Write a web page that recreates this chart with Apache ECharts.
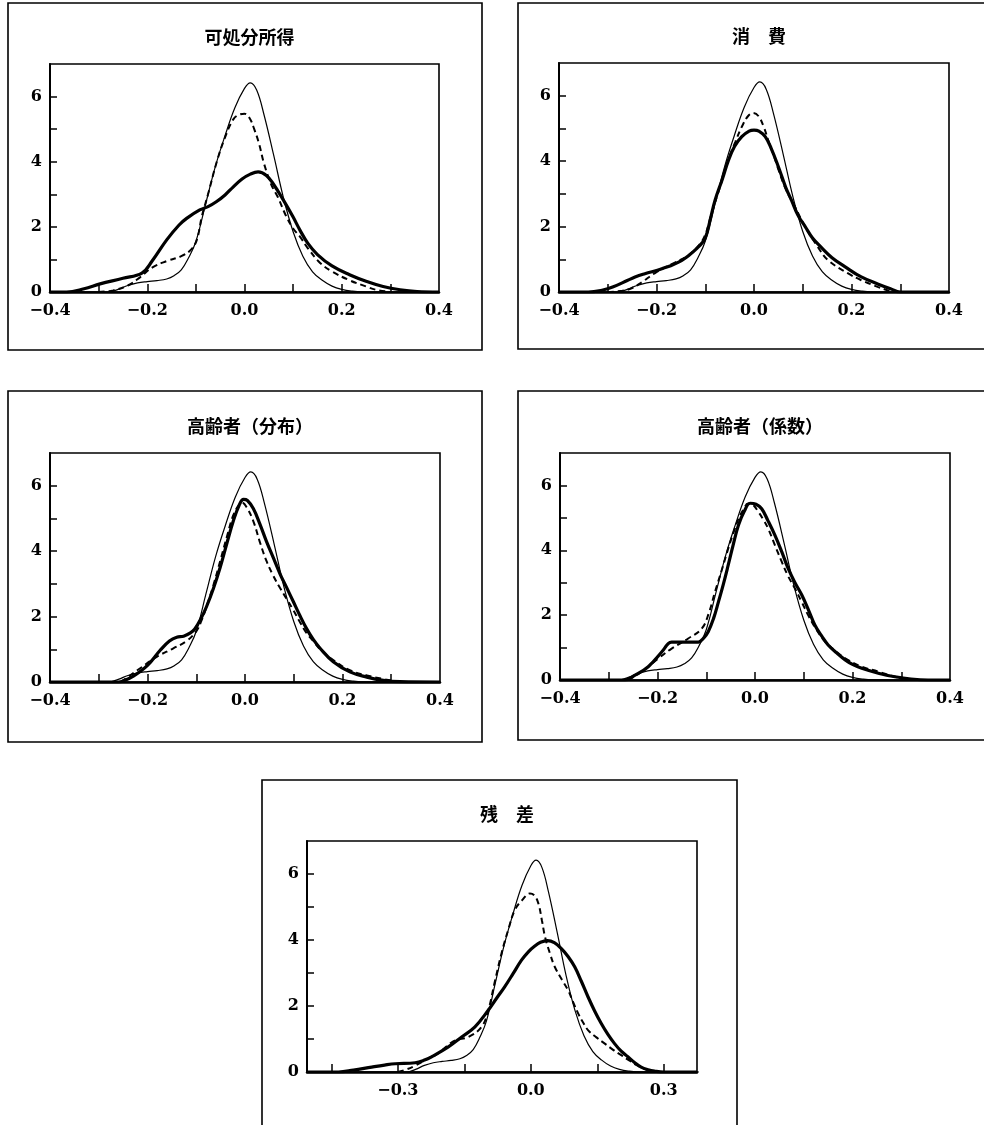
<!DOCTYPE html>
<html>
<head>
<meta charset="utf-8">
<title>密度分布</title>
<script src="https://cdn.jsdelivr.net/npm/echarts@6/dist/echarts.min.js"></script>
<style>
  html, body { margin: 0; padding: 0; background: #fff; }
  #chart { width: 984px; height: 1125px; }
</style>
</head>
<body>
<div id="chart"></div>
<script>
// Panel titles
const titles = ['可処分所得', '消　費', '高齢者（分布）', '高齢者（係数）', '残　差'];

// Axis ticks and labels
const xLabelsStd = [-0.4, -0.2, 0, 0.2, 0.4];
const xTicksStd = [-0.3, -0.2, -0.1, 0, 0.1, 0.2, 0.3];
const xLabelsResid = [-0.3, 0, 0.3];
const xTicksResid = [-0.45, -0.3, -0.15, 0, 0.15, 0.3];
const yLabels = [0, 2, 4, 6];
const yTicks = [1, 2, 3, 4, 5, 6];

// Thin solid curve, common to every panel
const baseCurve = [[-0.4,0],[-0.28,0],[-0.26,0.08],[-0.24,0.2],[-0.22,0.28],[-0.2,0.32],[-0.18,0.35],[-0.16,0.4],[-0.145,0.5],[-0.13,0.68],[-0.115,1.05],[-0.1,1.55],[-0.08,2.7],[-0.06,3.85],[-0.04,4.8],[-0.02,5.65],[0,6.25],[0.012,6.42],[0.025,6.2],[0.04,5.45],[0.06,4.2],[0.08,2.9],[0.1,1.85],[0.12,1.1],[0.14,0.62],[0.16,0.36],[0.18,0.18],[0.2,0.08],[0.22,0.03],[0.25,0],[0.4,0]];

// 可処分所得
const incomeThick = [[-0.4,0],[-0.366,0],[-0.33,0.1],[-0.297,0.25],[-0.25,0.42],[-0.211,0.58],[-0.19,0.95],[-0.16,1.6],[-0.135,2.05],[-0.119,2.26],[-0.092,2.52],[-0.075,2.62],[-0.058,2.77],[-0.04,2.98],[-0.023,3.23],[-0.005,3.47],[0.012,3.62],[0.028,3.69],[0.045,3.58],[0.06,3.3],[0.08,2.82],[0.1,2.3],[0.114,1.9],[0.13,1.5],[0.15,1.15],[0.18,0.8],[0.216,0.53],[0.25,0.33],[0.285,0.17],[0.32,0.07],[0.355,0.015],[0.4,0]];
const incomeDashed = [[-0.3,0],[-0.27,0.05],[-0.24,0.2],[-0.215,0.45],[-0.19,0.75],[-0.16,0.95],[-0.13,1.1],[-0.11,1.3],[-0.098,1.6],[-0.088,2.3],[-0.075,3.0],[-0.057,4.0],[-0.04,4.75],[-0.023,5.3],[-0.01,5.45],[0,5.47],[0.01,5.35],[0.02,5.0],[0.03,4.55],[0.04,3.95],[0.055,3.3],[0.069,2.9],[0.085,2.35],[0.1,1.95],[0.114,1.7],[0.13,1.35],[0.155,0.9],[0.18,0.63],[0.216,0.36],[0.25,0.17],[0.27,0.07],[0.3,0]];

// 消費
const consThick = [[-0.4,0],[-0.34,0],[-0.31,0.06],[-0.29,0.15],[-0.26,0.35],[-0.244,0.46],[-0.224,0.56],[-0.189,0.71],[-0.148,0.97],[-0.114,1.38],[-0.1,1.65],[-0.09,2.2],[-0.08,2.8],[-0.065,3.45],[-0.053,4.0],[-0.04,4.45],[-0.025,4.75],[-0.01,4.92],[0,4.95],[0.01,4.92],[0.023,4.75],[0.035,4.4],[0.05,3.83],[0.065,3.2],[0.077,2.8],[0.09,2.35],[0.105,2.0],[0.12,1.65],[0.139,1.35],[0.16,1.05],[0.187,0.77],[0.22,0.46],[0.255,0.24],[0.28,0.1],[0.3,0],[0.4,0]];
const consDashed = [[-0.3,0],[-0.27,0.04],[-0.25,0.12],[-0.23,0.3],[-0.203,0.58],[-0.169,0.85],[-0.135,1.12],[-0.112,1.45],[-0.1,1.75],[-0.087,2.4],[-0.07,3.2],[-0.053,4.03],[-0.038,4.6],[-0.025,5.05],[-0.012,5.38],[-0.002,5.47],[0.009,5.38],[0.02,5.05],[0.03,4.6],[0.04,4.2],[0.05,3.75],[0.065,3.15],[0.084,2.6],[0.105,2.0],[0.13,1.4],[0.152,0.97],[0.194,0.56],[0.22,0.36],[0.255,0.15],[0.275,0.05],[0.29,0]];

// 高齢者（分布）
const elderDistThick = [[-0.4,0],[-0.26,0],[-0.25,0.03],[-0.229,0.18],[-0.2,0.51],[-0.174,0.97],[-0.155,1.25],[-0.14,1.37],[-0.126,1.4],[-0.112,1.5],[-0.103,1.62],[-0.09,1.95],[-0.079,2.3],[-0.065,2.85],[-0.051,3.5],[-0.037,4.25],[-0.024,4.92],[-0.012,5.4],[-0.003,5.58],[0.005,5.55],[0.017,5.3],[0.03,4.85],[0.044,4.3],[0.058,3.8],[0.072,3.3],[0.085,2.9],[0.099,2.46],[0.112,2.05],[0.126,1.64],[0.14,1.3],[0.154,1.03],[0.181,0.62],[0.215,0.31],[0.25,0.15],[0.284,0.05],[0.318,0.01],[0.4,0]];
const elderDistDashed = [[-0.255,0],[-0.25,0.05],[-0.215,0.42],[-0.181,0.77],[-0.147,1.03],[-0.12,1.25],[-0.1,1.55],[-0.09,1.85],[-0.079,2.3],[-0.065,2.95],[-0.051,3.69],[-0.037,4.45],[-0.024,5.1],[-0.012,5.42],[-0.006,5.48],[0.003,5.35],[0.017,4.92],[0.03,4.3],[0.044,3.7],[0.058,3.25],[0.072,2.87],[0.085,2.55],[0.099,2.2],[0.112,1.85],[0.126,1.5],[0.14,1.25],[0.154,1.0],[0.181,0.67],[0.215,0.36],[0.25,0.2],[0.284,0.09],[0.3,0.05],[0.32,0]];

// 高齢者（係数）
const elderCoefThick = [[-0.4,0],[-0.267,0],[-0.246,0.15],[-0.219,0.41],[-0.191,0.87],[-0.178,1.12],[-0.171,1.17],[-0.116,1.17],[-0.105,1.3],[-0.096,1.49],[-0.085,1.9],[-0.075,2.41],[-0.065,2.95],[-0.055,3.54],[-0.045,4.15],[-0.034,4.77],[-0.022,5.2],[-0.01,5.45],[0.002,5.42],[0.0137,5.28],[0.027,4.9],[0.041,4.46],[0.055,3.95],[0.068,3.44],[0.082,3.0],[0.096,2.62],[0.11,2.15],[0.123,1.69],[0.137,1.35],[0.15,1.08],[0.168,0.83],[0.185,0.62],[0.2,0.48],[0.219,0.36],[0.253,0.21],[0.287,0.1],[0.32,0.03],[0.355,0],[0.4,0]];
const elderCoefDashed = [[-0.26,0],[-0.232,0.26],[-0.198,0.67],[-0.171,0.97],[-0.137,1.28],[-0.109,1.59],[-0.095,2.05],[-0.082,2.72],[-0.068,3.4],[-0.055,4.05],[-0.044,4.55],[-0.034,4.97],[-0.024,5.25],[-0.014,5.44],[-0.004,5.4],[0.007,5.18],[0.017,4.95],[0.027,4.67],[0.041,4.15],[0.055,3.64],[0.068,3.2],[0.082,2.82],[0.096,2.4],[0.109,2.0],[0.125,1.58],[0.144,1.18],[0.165,0.9],[0.185,0.67],[0.219,0.41],[0.253,0.26],[0.287,0.1],[0.32,0.03],[0.34,0]];

// 残差
const residThick = [[-0.505,0],[-0.434,0],[-0.4,0.06],[-0.359,0.15],[-0.33,0.21],[-0.306,0.25],[-0.261,0.28],[-0.24,0.36],[-0.224,0.46],[-0.186,0.76],[-0.156,1.06],[-0.126,1.37],[-0.096,1.87],[-0.078,2.22],[-0.059,2.58],[-0.04,2.98],[-0.021,3.39],[-0.005,3.65],[0.009,3.82],[0.022,3.93],[0.0375,3.98],[0.053,3.92],[0.069,3.74],[0.084,3.5],[0.099,3.19],[0.114,2.75],[0.129,2.28],[0.144,1.85],[0.159,1.47],[0.174,1.14],[0.189,0.86],[0.204,0.63],[0.219,0.46],[0.234,0.29],[0.249,0.15],[0.265,0.07],[0.279,0.03],[0.3,0],[0.375,0]];
const residDashed = [[-0.3,0],[-0.28,0.08],[-0.26,0.2],[-0.235,0.38],[-0.209,0.56],[-0.19,0.78],[-0.171,0.96],[-0.141,1.06],[-0.111,1.37],[-0.096,1.87],[-0.081,2.75],[-0.066,3.6],[-0.05,4.35],[-0.036,4.91],[-0.02,5.2],[-0.002,5.41],[0.008,5.35],[0.017,5.11],[0.025,4.6],[0.032,4.1],[0.043,3.6],[0.054,3.19],[0.07,2.8],[0.084,2.48],[0.096,2.1],[0.107,1.77],[0.118,1.5],[0.129,1.27],[0.148,1.05],[0.167,0.86],[0.185,0.68],[0.204,0.51],[0.222,0.35],[0.24,0.2],[0.264,0.05],[0.28,0]];

// Layout of the five panels: outer frame and plotting area
const panels = [
  { frame: [8, 3, 474, 347],   grid: [50, 64, 389, 228],  xMin: -0.4,   xMax: 0.4,   xLabels: xLabelsStd,   xTicks: xTicksStd,   thick: incomeThick,    dashed: incomeDashed },
  { frame: [518, 3, 480, 346], grid: [559, 63, 390, 229], xMin: -0.4,   xMax: 0.4,   xLabels: xLabelsStd,   xTicks: xTicksStd,   thick: consThick,      dashed: consDashed },
  { frame: [8, 391, 474, 351], grid: [50, 453, 390, 229], xMin: -0.4,   xMax: 0.4,   xLabels: xLabelsStd,   xTicks: xTicksStd,   thick: elderDistThick, dashed: elderDistDashed },
  { frame: [518, 391, 480, 349], grid: [560, 453, 390, 227], xMin: -0.4, xMax: 0.4,  xLabels: xLabelsStd,   xTicks: xTicksStd,   thick: elderCoefThick, dashed: elderCoefDashed },
  { frame: [262, 780, 475, 360], grid: [307, 841, 390, 231], xMin: -0.505, xMax: 0.375, xLabels: xLabelsResid, xTicks: xTicksResid, thick: residThick,     dashed: residDashed }
];

const numFont = { fontFamily: 'DejaVu Serif', fontWeight: 'bold', fontSize: 16, color: '#000' };
const fmtX = v => (v < -1e-9 ? '\u2212' : '') + Math.abs(v).toFixed(1);

const option = {
  backgroundColor: '#fff',
  animation: false,
  title: [],
  grid: [],
  xAxis: [],
  yAxis: [],
  series: [],
  graphic: []
};

panels.forEach((p, i) => {
  const [gl, gt, gw, gh] = p.grid;
  option.grid.push({
    left: gl, top: gt, width: gw, height: gh,
    show: true, borderColor: '#000', borderWidth: 1.6, containLabel: false
  });
  option.title.push({
    text: titles[i],
    left: gl + gw / 2, top: gt - 41, textAlign: 'center',
    textStyle: { fontFamily: 'Noto Sans CJK JP', fontWeight: 'bold', fontSize: 18, color: '#000' }
  });
  option.xAxis.push({
    type: 'value', gridIndex: i, min: p.xMin, max: p.xMax,
    axisLine: { show: true, onZero: false, lineStyle: { color: '#000', width: 2.5 } },
    axisTick: { show: true, inside: true, length: 8, customValues: p.xTicks, lineStyle: { color: '#000', width: 1.5 } },
    axisLabel: Object.assign({ show: true, margin: 11, customValues: p.xLabels, formatter: fmtX }, numFont),
    splitLine: { show: false }
  });
  option.yAxis.push({
    type: 'value', gridIndex: i, min: 0, max: 7,
    axisLine: { show: true, onZero: false, lineStyle: { color: '#000', width: 2 } },
    axisTick: { show: true, inside: true, length: 7, customValues: yTicks, lineStyle: { color: '#000', width: 1.5 } },
    axisLabel: Object.assign({ show: true, margin: 8, customValues: yLabels, formatter: v => String(Math.round(v)) }, numFont),
    splitLine: { show: false }
  });
  const common = { type: 'line', xAxisIndex: i, yAxisIndex: i, showSymbol: false, symbol: 'none', smooth: 0.4, clip: true, silent: true };
  option.series.push(Object.assign({}, common, { data: baseCurve, lineStyle: { color: '#000', width: 1.2 } }));
  option.series.push(Object.assign({}, common, { data: p.dashed, lineStyle: { color: '#000', width: 2, type: [6, 4] } }));
  option.series.push(Object.assign({}, common, { data: p.thick, lineStyle: { color: '#000', width: 3.2 } }));
  const [fx, fy, fw, fh] = p.frame;
  option.graphic.push({
    type: 'rect', silent: true, z: 100,
    shape: { x: fx, y: fy, width: fw, height: fh },
    style: { fill: 'none', stroke: '#000', lineWidth: 1.6 }
  });
});

const chart = echarts.init(document.getElementById('chart'), null, { renderer: 'canvas' });
chart.setOption(option);
</script>
</body>
</html>
